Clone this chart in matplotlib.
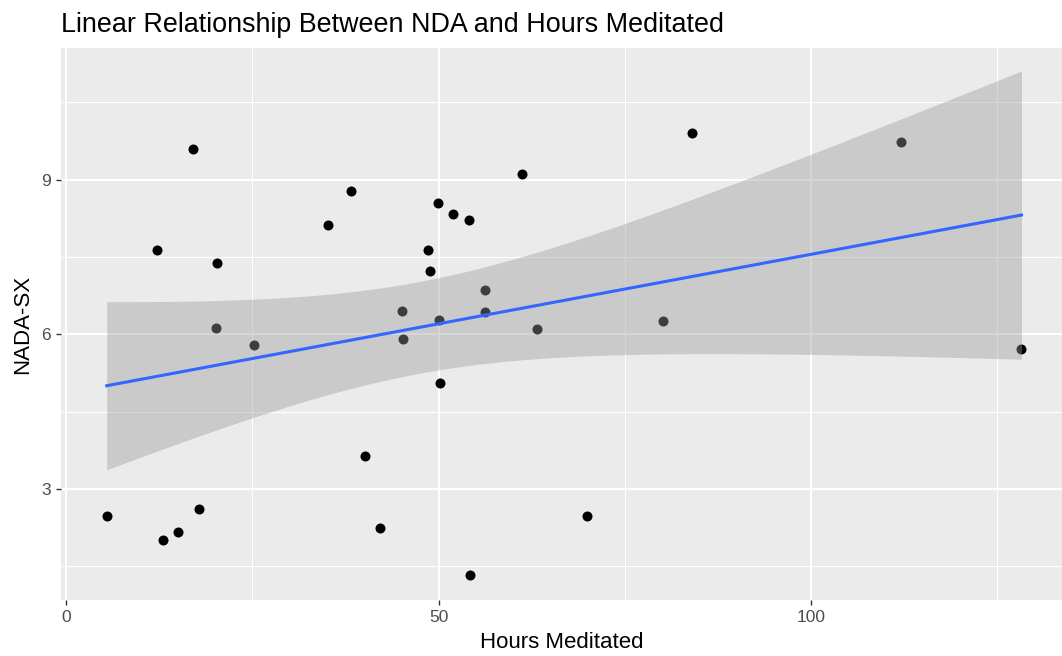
import numpy as np
import matplotlib
matplotlib.use("Agg")
import matplotlib.pyplot as plt

plt.rcParams['font.family'] = ['Liberation Sans', 'DejaVu Sans']

# hours meditated vs NADA-SX score
hours = [5.44, 13.05, 14.98, 17.88, 40.06, 42.07, 54.26, 69.94,
         17.08, 38.18, 35.14, 12.16, 20.22, 20.13, 25.24, 61.21,
         49.92, 51.88, 54.09, 48.52, 48.88, 56.24, 45.12, 56.18,
         50.0, 63.26, 80.15, 45.16, 50.19, 112.14, 128.26, 84.05]
nada = [2.48, 2.02, 2.17, 2.62, 3.64, 2.25, 1.33, 2.47,
        9.59, 8.78, 8.11, 7.63, 7.38, 6.13, 5.79, 9.11,
        8.54, 8.34, 8.21, 7.63, 7.23, 6.85, 6.45, 6.43,
        6.27, 6.11, 6.26, 5.91, 5.06, 9.73, 5.71, 9.90]

x = np.array(hours)
y = np.array(nada)
n = len(x)

# ordinary least squares with 95% confidence band
b1, b0 = np.polyfit(x, y, 1)
resid = y - (b0 + b1 * x)
s = np.sqrt(np.sum(resid ** 2) / (n - 2))
xs = np.linspace(x.min(), x.max(), 80)
ys = b0 + b1 * xs
se = s * np.sqrt(1.0 / n + (xs - x.mean()) ** 2 / np.sum((x - x.mean()) ** 2))
tq = 2.042  # t(0.975, df=30)
lo = ys - tq * se
hi = ys + tq * se

fig = plt.figure(figsize=(10.62, 6.56), dpi=100)
ax = fig.add_axes([61 / 1062, 56 / 656, 1 - 61 / 1062, (600 - 48) / 656])
ax.set_facecolor('#EBEBEB')

ax.set_xlim(-0.7, 133.7)
ax.set_ylim(0.85, 11.55)
ax.set_xticks([0, 50, 100])
ax.set_yticks([3, 6, 9])
ax.set_xticks([25, 75, 125], minor=True)
ax.set_yticks([1.5, 4.5, 7.5, 10.5], minor=True)
ax.grid(which='major', color='white', linewidth=1.5)
ax.grid(which='minor', color='white', linewidth=0.75)
ax.set_axisbelow(True)
for sp in ax.spines.values():
    sp.set_visible(False)

ax.tick_params(which='major', length=3.6, width=1, color='#333333',
               labelcolor='#4D4D4D', labelsize=12.5, pad=3.5)
ax.tick_params(which='minor', length=0)

ax.scatter(x, y, s=52, color='black', zorder=2, linewidths=0)
ax.fill_between(xs, lo, hi, color='#999999', alpha=0.4, linewidth=0, zorder=3)
ax.plot(xs, ys, color='#3366FF', linewidth=2.2, zorder=4)

ax.set_xlabel('Hours Meditated', fontsize=16, color='black', labelpad=5)
ax.set_ylabel('NADA-SX', fontsize=16, color='black', labelpad=6)
ax.set_title('Linear Relationship Between NDA and Hours Meditated',
             loc='left', fontsize=19.4, color='black', pad=11.5)

fig.savefig('out.png', dpi=100)
